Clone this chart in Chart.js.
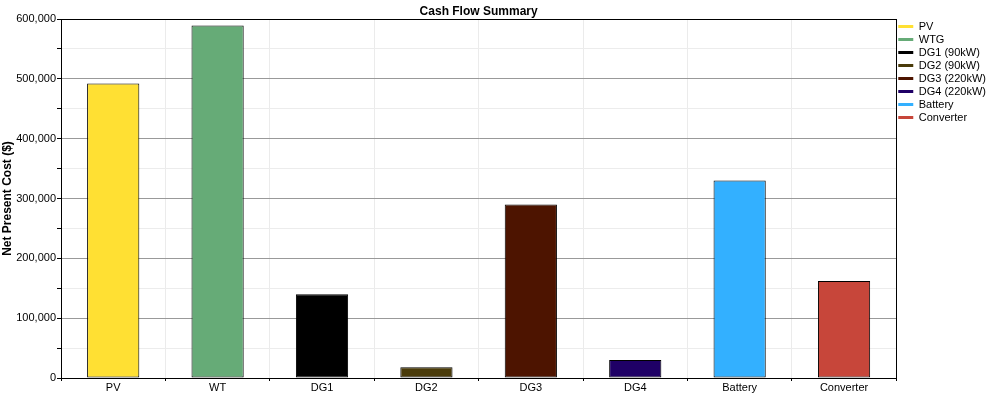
<!DOCTYPE html>
<html><head><meta charset="utf-8">
<script src="https://cdn.jsdelivr.net/npm/chart.js@4"></script>
<style>html,body{margin:0;padding:0;background:#fff;}#wrap{width:988px;height:395px;}</style>
</head><body><div id="wrap"><canvas id="c" width="988" height="395"></canvas></div>
<script>
const categories = ['PV','WT','DG1','DG2','DG3','DG4','Battery','Converter'];
const legendNames = ['PV','WTG','DG1 (90kW)','DG2 (90kW)','DG3 (220kW)','DG4 (220kW)','Battery','Converter'];
const npcValues = [492000, 589000, 140000, 18000, 290000, 30000, 330000, 162000];
const barColors = ['#FFE033','#66AB77','#000000','#4A3B0A','#4D1400','#1F0066','#33B0FF','#C7463A'];
const yTickMax = 600000;
const yMinorStep = 50000;
const yMajorStep = 100000;

const datasets = categories.map((c, i) => ({
  label: legendNames[i],
  data: categories.map((_, j) => j === i ? npcValues[i] : null),
  backgroundColor: barColors[i],
  borderColor: '#000',
  borderWidth: 1,
  borderSkipped: false,
  categoryPercentage: 0.5,
  barPercentage: 1.0
}));

const framePlugin = {
  id: 'frame',
  afterDraw(chart) {
    const {ctx, chartArea: a} = chart;
    ctx.save();
    ctx.strokeStyle = '#000';
    ctx.lineWidth = 1;
    ctx.strokeRect(Math.round(a.left) + 0.5, Math.round(a.top) + 0.5, Math.round(a.right - a.left), Math.round(a.bottom - a.top));
    ctx.font = 'bold 12px "Liberation Sans", Arial, sans-serif';
    ctx.fillStyle = '#000';
    ctx.textAlign = 'center';
    ctx.textBaseline = 'middle';
    ctx.fillText('Cash Flow Summary', (a.left + a.right) / 2, 12);
    ctx.restore();
  }
};

Chart.defaults.font.family = '"Liberation Sans", Arial, sans-serif';
Chart.defaults.font.size = 11;
Chart.defaults.color = '#000';

new Chart(document.getElementById('c'), {
  type: 'bar',
  data: { labels: categories, datasets },
  options: {
    responsive: false,
    animation: false,
    layout: { padding: { top: 19, left: 0, right: -8, bottom: 0 } },
    plugins: {
      tooltip: { enabled: false },
      legend: {
        position: 'right',
        align: 'start',
        labels: {
          usePointStyle: true,
          pointStyle: 'line',
          pointStyleWidth: 15,
          boxHeight: 11,
          padding: 2,
          font: { size: 11 },
          color: '#000',
          generateLabels(chart) {
            return chart.data.datasets.map((d, i) => ({
              text: d.label,
              fillStyle: barColors[i],
              strokeStyle: barColors[i],
              lineWidth: 3,
              pointStyle: 'line',
              hidden: false,
              datasetIndex: i,
              fontColor: '#000'
            }));
          }
        }
      }
    },
    scales: {
      x: {
        stacked: true,
        grid: { color: '#ebebeb', offset: true, tickLength: 3, tickColor: '#000', drawTicks: true },
        border: { color: '#000' },
        ticks: { padding: 0, color: '#000', font: { size: 11 } },
        afterFit(s) { s.height = 17; }
      },
      y: {
        stacked: true,
        min: 0,
        max: yTickMax,
        grid: {
          color: (ctx) => (ctx.tick && ctx.tick.value % yMajorStep === 0) ? '#999' : '#ececec',
          tickLength: 4,
          tickColor: '#000'
        },
        border: { color: '#000' },
        ticks: {
          stepSize: yMinorStep,
          padding: 1,
          color: '#000',
          font: { size: 11 },
          callback: (v) => v % yMajorStep === 0 ? v.toLocaleString('en-US') : ''
        },
        title: {
          display: true,
          text: 'Net Present Cost ($)',
          font: { size: 12, weight: 'bold' },
          color: '#000',
          padding: { top: 0, bottom: 2 }
        },
        afterFit(s) { s.width = 61; }
      }
    }
  },
  plugins: [framePlugin]
});
</script>
</body></html>
